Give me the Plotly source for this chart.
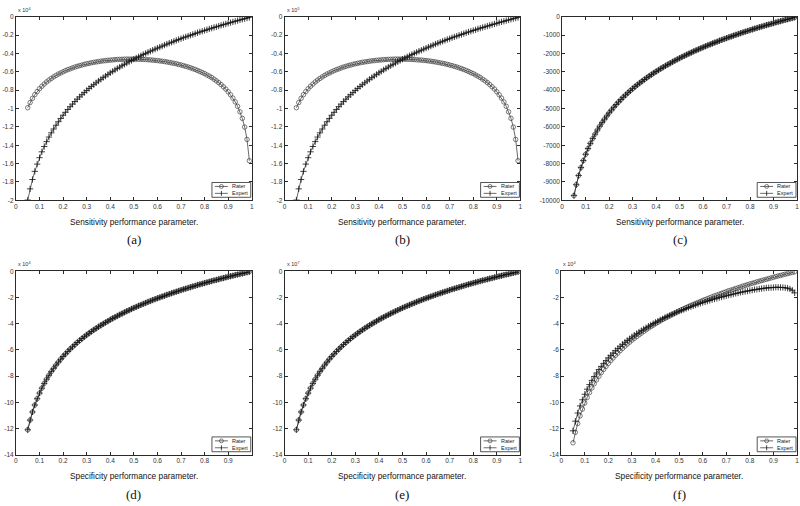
import plotly.graph_objects as go

# ---------------- data ----------------
x_vals = [0.05, 0.06, 0.07, 0.08, 0.09, 0.10, 0.11, 0.12, 0.13, 0.14, 0.15, 0.16, 0.17, 0.18, 0.19,
          0.20, 0.21, 0.22, 0.23, 0.24, 0.25, 0.26, 0.27, 0.28, 0.29, 0.30, 0.31, 0.32, 0.33, 0.34,
          0.35, 0.36, 0.37, 0.38, 0.39, 0.40, 0.41, 0.42, 0.43, 0.44, 0.45, 0.46, 0.47, 0.48, 0.49,
          0.50, 0.51, 0.52, 0.53, 0.54, 0.55, 0.56, 0.57, 0.58, 0.59, 0.60, 0.61, 0.62, 0.63, 0.64,
          0.65, 0.66, 0.67, 0.68, 0.69, 0.70, 0.71, 0.72, 0.73, 0.74, 0.75, 0.76, 0.77, 0.78, 0.79,
          0.80, 0.81, 0.82, 0.83, 0.84, 0.85, 0.86, 0.87, 0.88, 0.89, 0.90, 0.91, 0.92, 0.93, 0.94,
          0.95, 0.96, 0.97, 0.98, 0.99]

# panels (a)/(b): sensitivity, Rater (x10^n)
sens_rater = [-0.991, -0.935, -0.889, -0.849, -0.815, -0.784, -0.757, -0.733, -0.710, -0.690,
              -0.672, -0.655, -0.639, -0.624, -0.612, -0.599, -0.587, -0.576, -0.567, -0.557,
              -0.548, -0.540, -0.532, -0.526, -0.518, -0.512, -0.507, -0.501, -0.496, -0.492,
              -0.488, -0.484, -0.480, -0.478, -0.474, -0.472, -0.470, -0.467, -0.465, -0.464,
              -0.463, -0.462, -0.461, -0.461, -0.461, -0.461, -0.461, -0.463, -0.463, -0.464,
              -0.466, -0.468, -0.470, -0.472, -0.475, -0.477, -0.481, -0.484, -0.488, -0.492,
              -0.497, -0.502, -0.507, -0.512, -0.519, -0.525, -0.532, -0.540, -0.547, -0.556,
              -0.565, -0.574, -0.585, -0.596, -0.608, -0.619, -0.634, -0.647, -0.662, -0.680,
              -0.698, -0.717, -0.739, -0.763, -0.788, -0.817, -0.850, -0.886, -0.928, -0.976,
              -1.036, -1.107, -1.202, -1.337, -1.569]
# panels (a)/(b): sensitivity, Expert
sens_expert = [-1.998, -1.876, -1.774, -1.685, -1.606, -1.536, -1.472, -1.414, -1.361, -1.311,
               -1.265, -1.223, -1.182, -1.144, -1.108, -1.073, -1.041, -1.010, -0.980, -0.952,
               -0.924, -0.898, -0.873, -0.849, -0.826, -0.803, -0.781, -0.760, -0.740, -0.720,
               -0.700, -0.682, -0.663, -0.646, -0.628, -0.611, -0.595, -0.579, -0.563, -0.548,
               -0.533, -0.518, -0.504, -0.490, -0.476, -0.462, -0.449, -0.436, -0.424, -0.411,
               -0.399, -0.387, -0.375, -0.364, -0.352, -0.341, -0.330, -0.319, -0.308, -0.297,
               -0.287, -0.277, -0.267, -0.257, -0.247, -0.238, -0.228, -0.219, -0.210, -0.201,
               -0.192, -0.183, -0.174, -0.165, -0.157, -0.149, -0.141, -0.132, -0.124, -0.116,
               -0.109, -0.101, -0.093, -0.085, -0.078, -0.070, -0.063, -0.055, -0.049, -0.041,
               -0.034, -0.027, -0.020, -0.013, -0.007]
# panel (c): sensitivity, Rater and Expert coincide
sens_c = [-9749, -9154, -8652, -8220, -7836, -7494, -7182, -6898, -6638, -6397,
          -6173, -5965, -5766, -5581, -5405, -5236, -5080, -4927, -4783, -4643,
          -4510, -4383, -4259, -4142, -4028, -3918, -3810, -3706, -3609, -3511,
          -3417, -3326, -3234, -3150, -3065, -2981, -2903, -2824, -2746, -2672,
          -2600, -2528, -2457, -2388, -2320, -2255, -2190, -2128, -2066, -2004,
          -1946, -1887, -1829, -1773, -1718, -1663, -1607, -1555, -1503, -1451,
          -1402, -1354, -1302, -1256, -1207, -1162, -1113, -1071, -1025, -979,
          -937, -892, -849, -807, -768, -726, -687, -644, -605, -566,
          -530, -491, -452, -417, -381, -342, -306, -270, -238, -202,
          -166, -133, -98, -65, -33]
# panels (d)/(e): specificity, Rater and Expert coincide
spec_de = [-12.10, -11.36, -10.74, -10.21, -9.73, -9.30, -8.92, -8.56, -8.24, -7.94,
           -7.66, -7.41, -7.16, -6.93, -6.71, -6.50, -6.31, -6.12, -5.94, -5.77,
           -5.60, -5.44, -5.29, -5.14, -5.00, -4.86, -4.73, -4.60, -4.48, -4.36,
           -4.24, -4.13, -4.02, -3.91, -3.81, -3.70, -3.60, -3.51, -3.41, -3.32,
           -3.23, -3.14, -3.05, -2.97, -2.88, -2.80, -2.72, -2.64, -2.57, -2.49,
           -2.42, -2.34, -2.27, -2.20, -2.13, -2.06, -2.00, -1.93, -1.87, -1.80,
           -1.74, -1.68, -1.62, -1.56, -1.50, -1.44, -1.38, -1.33, -1.27, -1.22,
           -1.16, -1.11, -1.05, -1.00, -0.95, -0.90, -0.85, -0.80, -0.75, -0.70,
           -0.66, -0.61, -0.56, -0.52, -0.47, -0.42, -0.38, -0.34, -0.29, -0.25,
           -0.21, -0.17, -0.12, -0.08, -0.04]
# panel (f): specificity, Rater
spec_f_rater = [-13.09, -12.29, -11.62, -11.04, -10.52, -10.06, -9.64, -9.26, -8.91, -8.59,
                -8.29, -8.01, -7.74, -7.49, -7.26, -7.03, -6.82, -6.62, -6.42, -6.24,
                -6.06, -5.89, -5.72, -5.56, -5.41, -5.26, -5.12, -4.98, -4.85, -4.72,
                -4.59, -4.47, -4.34, -4.23, -4.12, -4.00, -3.90, -3.79, -3.69, -3.59,
                -3.49, -3.40, -3.30, -3.21, -3.12, -3.03, -2.94, -2.86, -2.77, -2.69,
                -2.61, -2.53, -2.46, -2.38, -2.31, -2.23, -2.16, -2.09, -2.02, -1.95,
                -1.88, -1.82, -1.75, -1.69, -1.62, -1.56, -1.49, -1.44, -1.38, -1.32,
                -1.26, -1.20, -1.14, -1.08, -1.03, -0.97, -0.92, -0.87, -0.81, -0.76,
                -0.71, -0.66, -0.61, -0.56, -0.51, -0.46, -0.41, -0.36, -0.32, -0.27,
                -0.22, -0.18, -0.13, -0.09, -0.04]
# panel (f): specificity, Expert
spec_f_expert = [-12.18, -11.44, -10.82, -10.28, -9.81, -9.39, -9.00, -8.65, -8.33, -8.03,
                 -7.76, -7.50, -7.26, -7.03, -6.82, -6.61, -6.42, -6.24, -6.06, -5.89,
                 -5.73, -5.58, -5.42, -5.28, -5.15, -5.01, -4.88, -4.76, -4.64, -4.53,
                 -4.41, -4.31, -4.20, -4.10, -3.99, -3.90, -3.81, -3.71, -3.63, -3.53,
                 -3.45, -3.37, -3.29, -3.21, -3.13, -3.05, -2.98, -2.92, -2.84, -2.77,
                 -2.71, -2.64, -2.58, -2.51, -2.45, -2.39, -2.34, -2.28, -2.23, -2.17,
                 -2.12, -2.07, -2.01, -1.97, -1.92, -1.87, -1.82, -1.79, -1.74, -1.69,
                 -1.66, -1.61, -1.58, -1.54, -1.51, -1.47, -1.44, -1.40, -1.38, -1.35,
                 -1.32, -1.30, -1.27, -1.26, -1.25, -1.24, -1.22, -1.22, -1.23, -1.24,
                 -1.26, -1.29, -1.35, -1.45, -1.65]

x_ticks = [0, 0.1, 0.2, 0.3, 0.4, 0.5, 0.6, 0.7, 0.8, 0.9, 1]
x_ticks_d = [0, 0.1, 0.2, 0.3, 0.4, 0.5, 0.6, 0.7, 0.8, 0.9]
y_ticks_ab = [0, -0.2, -0.4, -0.6, -0.8, -1, -1.2, -1.4, -1.6, -1.8, -2]
y_ticks_c = [0, -1000, -2000, -3000, -4000, -5000, -6000, -7000, -8000, -9000, -10000]
y_ticks_def = [0, -2, -4, -6, -8, -10, -12, -14]

series_names = ["Rater", "Expert"]
panel_labels = ["(a)", "(b)", "(c)", "(d)", "(e)", "(f)"]
x_titles = ["Sensitivity performance parameter."] * 3 + ["Specificity performance parameter."] * 3
exponents = ["x 10<sup>4</sup>", "x 10<sup>5</sup>", "", "x 10<sup>4</sup>", "x 10<sup>7</sup>", "x 10<sup>4</sup>"]

panels = [
    dict(rater=sens_rater, expert=sens_expert, yr=[-2, 0], yt=y_ticks_ab, xt=x_ticks),
    dict(rater=sens_rater, expert=sens_expert, yr=[-2, 0], yt=y_ticks_ab, xt=x_ticks),
    dict(rater=sens_c, expert=sens_c, yr=[-10000, 0], yt=y_ticks_c, xt=x_ticks),
    dict(rater=spec_de, expert=spec_de, yr=[-14, 0], yt=y_ticks_def, xt=x_ticks_d),
    dict(rater=spec_de, expert=spec_de, yr=[-14, 0], yt=y_ticks_def, xt=x_ticks),
    dict(rater=spec_f_rater, expert=spec_f_expert, yr=[-14, 0], yt=y_ticks_def, xt=x_ticks),
]

# ---------------- layout geometry (pixels -> paper) ----------------
W, H = 800, 506
px_boxes = [
    (14, 251, 13, 199), (284, 521, 13, 199), (563, 799, 13, 199),
    (14, 251, 271, 457), (284, 521, 271, 457), (562, 799, 271, 457),
]

def px(xp):
    return xp / W

def py(yp):
    return 1 - yp / H

fig = go.Figure()
LINE_C = "#2a2a2a"
SANS = "Liberation Sans, Arial, sans-serif"
TICK_FONT = dict(family=SANS, size=6.5, color="#333")

annotations = []
shapes = []
layout_axes = {}
for i, (p, box) in enumerate(zip(panels, px_boxes)):
    n = "" if i == 0 else str(i + 1)
    x0, x1, yt, yb = box
    xd = [px(x0), px(x1)]
    yd = [py(yb), py(yt)]
    fig.add_trace(go.Scatter(
        x=x_vals, y=p["rater"], name=series_names[0], mode="lines+markers",
        xaxis="x" + n, yaxis="y" + n, showlegend=False,
        line=dict(color=LINE_C, width=0.7),
        marker=dict(symbol="circle-open", size=4.5, color="#444", line=dict(width=0.7)),
    ))
    fig.add_trace(go.Scatter(
        x=x_vals, y=p["expert"], name=series_names[1], mode="lines+markers",
        xaxis="x" + n, yaxis="y" + n, showlegend=False,
        line=dict(color=LINE_C, width=0.7),
        marker=dict(symbol="cross-thin", size=4.5, color="#111", line=dict(width=0.8, color="#111")),
    ))
    axcommon = dict(showline=True, linecolor=LINE_C, linewidth=1, mirror="ticks",
                    ticks="inside", ticklen=3, tickcolor=LINE_C, tickwidth=0.8,
                    showgrid=False, zeroline=False, tickfont=TICK_FONT)
    layout_axes["xaxis" + n] = dict(domain=xd, range=[0, 1], anchor="y" + n,
                                    tickvals=p["xt"], ticktext=[f"{v:g}" for v in p["xt"]],
                                    **axcommon)
    layout_axes["yaxis" + n] = dict(domain=yd, range=p["yr"], anchor="x" + n,
                                    tickvals=p["yt"], ticktext=[f"{v:g}" for v in p["yt"]],
                                    **axcommon)

    # compact legend box in the lower-right corner of the panel
    lx0, lx1 = x1 - 40, x1 - 1
    ly0, ly1 = yb - 18, yb - 3
    shapes.append(dict(type="rect", xref="paper", yref="paper",
                       x0=px(lx0), x1=px(lx1), y0=py(ly1), y1=py(ly0),
                       line=dict(color=LINE_C, width=0.8), fillcolor="white", layer="above"))
    rows = [ly0 + 4, ly0 + 11]
    for r, name in zip(rows, series_names):
        shapes.append(dict(type="line", xref="paper", yref="paper",
                           x0=px(lx0 + 3), x1=px(lx0 + 16), y0=py(r), y1=py(r),
                           line=dict(color=LINE_C, width=0.7), layer="above"))
        annotations.append(dict(x=px(lx0 + 18), y=py(r), xref="paper", yref="paper",
                                text=name, showarrow=False, xanchor="left", yanchor="middle",
                                font=dict(family=SANS, size=5.5, color="#222")))
    cxm = lx0 + 9.5
    shapes.append(dict(type="circle", xref="paper", yref="paper",
                       x0=px(cxm - 2), x1=px(cxm + 2), y0=py(rows[0] + 2), y1=py(rows[0] - 2),
                       line=dict(color="#444", width=0.7), layer="above"))
    shapes.append(dict(type="line", xref="paper", yref="paper",
                       x0=px(cxm), x1=px(cxm), y0=py(rows[1] + 2.5), y1=py(rows[1] - 2.5),
                       line=dict(color="#111", width=0.8), layer="above"))

    cx = (xd[0] + xd[1]) / 2
    title_y = 221 if i < 3 else 479
    lab_y = 239 if i < 3 else 497
    annotations.append(dict(x=cx, y=py(title_y), xref="paper", yref="paper",
                            text=x_titles[i], showarrow=False, xanchor="center", yanchor="middle",
                            font=dict(family=SANS, size=8.3, color="#111")))
    annotations.append(dict(x=cx, y=py(lab_y), xref="paper", yref="paper",
                            text=panel_labels[i], showarrow=False, xanchor="center", yanchor="middle",
                            font=dict(family="Liberation Serif, Times New Roman, serif", size=13, color="#111")))
    if exponents[i]:
        annotations.append(dict(x=px(x0), y=py(yt - 7), xref="paper", yref="paper",
                                text=exponents[i], showarrow=False, xanchor="left", yanchor="middle",
                                font=dict(family=SANS, size=5.5, color="#333")))

fig.update_layout(
    width=W, height=H, margin=dict(l=0, r=0, t=0, b=0),
    paper_bgcolor="white", plot_bgcolor="white",
    showlegend=False, annotations=annotations, shapes=shapes, **layout_axes,
)
fig.write_html("out.html", config={"displayModeBar": False},
               post_script="document.body.style.margin='0';document.body.style.overflow='hidden';")
